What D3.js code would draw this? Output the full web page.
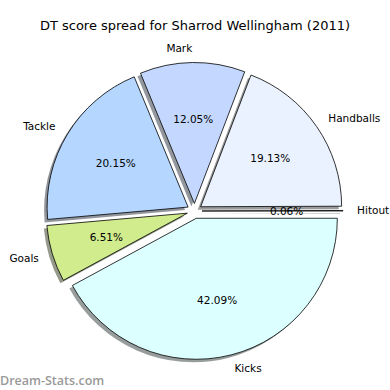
<!DOCTYPE html>
<html>
<head>
<meta charset="utf-8">
<script src="https://cdn.jsdelivr.net/npm/d3@7"></script>
<style>
  body { margin: 0; background: #fff; }
  text { font-family: "DejaVu Sans", sans-serif; }
</style>
</head>
<body>
<div id="chart"></div>
<script>
const labels = ["Hitout", "Handballs", "Mark", "Tackle", "Goals", "Kicks"];
const shares = [0.06, 19.13, 12.05, 20.15, 6.51, 42.09];
const colors = ["#f4f4f4", "#eaf2ff", "#c4d8ff", "#b4d6ff", "#d0ec8c", "#dcffff"];

const width = 390;
const height = 390;
const cx = 194.5;
const cy = 211;
const radius = 141;
const explode = 7.5;
const shadowOff = 3;

const data = labels.map((label, i) => ({ label, value: shares[i], color: colors[i] }));

const svg = d3
  .select("#chart")
  .append("svg")
  .attr("width", width)
  .attr("height", height);

svg
  .append("text")
  .attr("x", width / 2)
  .attr("y", 30)
  .attr("text-anchor", "middle")
  .attr("font-size", 13)
  .attr("fill", "#000")
  .text("DT score spread for Sharrod Wellingham (2011)");

// matplotlib style: start at 3 o'clock, go counter-clockwise
const pie = d3
  .pie()
  .value(d => d.value)
  .sort(null)
  .startAngle(Math.PI / 2)
  .endAngle(Math.PI / 2 - 2 * Math.PI);

const arc = d3.arc().innerRadius(0).outerRadius(radius);
const arcs = pie(data);

const mid = d => (d.startAngle + d.endAngle) / 2;
const offset = (d, dist) => [Math.sin(mid(d)) * dist, -Math.cos(mid(d)) * dist];

const g = svg.append("g").attr("transform", `translate(${cx}, ${cy})`);

const shade = c => {
  const rgb = d3.rgb(c);
  return d3.rgb(rgb.r * 0.3, rgb.g * 0.3, rgb.b * 0.3).toString();
};

// shadows
g.selectAll("path.shadow")
  .data(arcs)
  .join("path")
  .classed("shadow", true)
  .attr("transform", d => {
    const [x, y] = offset(d, explode);
    return `translate(${x - shadowOff}, ${y + shadowOff})`;
  })
  .attr("d", arc)
  .attr("fill", d => shade(d.data.color))
  .attr("fill-opacity", 0.55);

// wedges
g.selectAll("path.wedge")
  .data(arcs)
  .join("path")
  .classed("wedge", true)
  .attr("transform", d => {
    const [x, y] = offset(d, explode);
    return `translate(${x}, ${y})`;
  })
  .attr("d", arc)
  .attr("fill", d => d.data.color)
  .attr("stroke", "#000")
  .attr("stroke-width", 0.8)
  .attr("stroke-linejoin", "round");

// outer labels
g.selectAll("text.label")
  .data(arcs)
  .join("text")
  .classed("label", true)
  .attr("x", d => offset(d, explode + radius * 1.1)[0])
  .attr("y", d => offset(d, explode + radius * 1.1)[1])
  .attr("dy", "0.35em")
  .attr("text-anchor", d => (Math.sin(mid(d)) > 0 ? "start" : "end"))
  .attr("font-size", 10.5)
  .attr("fill", "#000")
  .text(d => d.data.label);

// percentage labels
g.selectAll("text.pct")
  .data(arcs)
  .join("text")
  .classed("pct", true)
  .attr("x", d => offset(d, explode + radius * 0.6)[0])
  .attr("y", d => offset(d, explode + radius * 0.6)[1])
  .attr("dy", "0.35em")
  .attr("text-anchor", "middle")
  .attr("font-size", 10.5)
  .attr("fill", "#000")
  .text(d => d3.format(".2f")(d.data.value) + "%");

svg
  .append("text")
  .attr("x", 0)
  .attr("y", 385)
  .attr("font-weight", 600)
  .attr("font-size", 12.5)
  .attr("fill", "#999")
  .style("font-family", "'Open Sans', sans-serif")
  .text("Dream-Stats.com");
</script>
</body>
</html>
